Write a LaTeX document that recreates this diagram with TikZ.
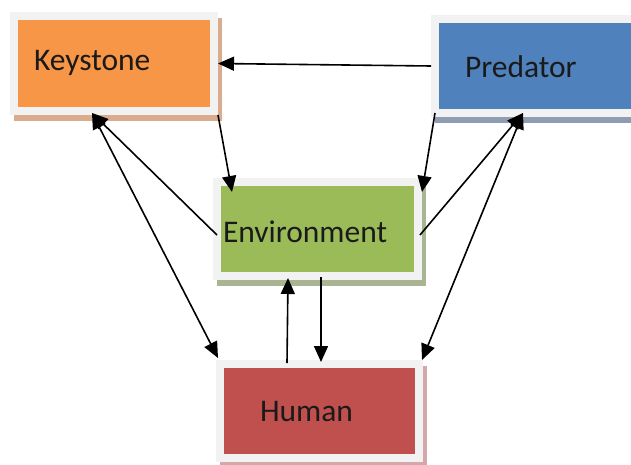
\documentclass[tikz,border=0pt]{standalone}
\usepackage{fontspec}
\setmainfont{Carlito}
\usetikzlibrary{arrows.meta,shadows}
\definecolor{framegray}{HTML}{F2F2F2}
\definecolor{kfill}{HTML}{F79646}
\definecolor{pfill}{HTML}{4F81BD}
\definecolor{efill}{HTML}{9BBB59}
\definecolor{hfill}{HTML}{C0504D}
\definecolor{kshadow}{HTML}{D8AC8C}
\definecolor{pshadow}{HTML}{8E9DB2}
\definecolor{eshadow}{HTML}{A9B592}
\definecolor{hshadow}{HTML}{D4A8A8}
\definecolor{txt}{HTML}{1A1A1A}
\tikzset{
  box/.style n args={2}{rectangle, fill=framegray, inner sep=0pt, outer sep=0pt,
    general shadow={fill=#2, shadow xshift=4pt, shadow yshift=-6pt},
    path picture={\fill[#1] ([shift={(8pt,-8pt)}]path picture bounding box.north west)
      rectangle ([shift={(-8pt,8pt)}]path picture bounding box.south east);}},
  lbl/.style={inner sep=0pt, outer sep=0pt, anchor=base west, text=txt,
    font=\fontsize{31.5}{38}\selectfont},
  tip/.tip={Triangle[length=16pt,width=14pt]},
  conn/.style={draw=black, line width=1.6pt, -tip},
  dconn/.style={draw=black, line width=1.6pt, tip-tip}
}
\begin{document}
\begin{tikzpicture}[x=1pt,y=-1pt]
\useasboundingbox (0,0) rectangle (631,465);
\fill[white] (0,0) rectangle (631,465);
% boxes
\node[box={kfill}{kshadow}, minimum width=208pt, minimum height=103pt] (k) at (114,63.5) {};
\node[box={pfill}{pshadow}, minimum width=214pt, minimum height=102pt] (p) at (538,66) {};
\node[box={efill}{eshadow}, minimum width=209pt, minimum height=102pt] (e) at (317.5,229) {};
\node[box={hfill}{hshadow}, minimum width=207pt, minimum height=102pt] (h) at (319.5,411) {};
% labels
\node[lbl] (kl) at (34,71) {Keystone};
\node[lbl] (pl) at (465,78) {Predator};
\node[lbl] (el) at (223,242) {Environment};
\node[lbl] (hl) at (260,421) {Human};
% connectors
\draw[conn] (p.west) -- (k.east);
\draw[conn] (k.south east) -- ([shift={(19,14)}]e.north west);
\draw[conn] ([shift={(4,6)}]e.west) -- ([shift={(82,-2)}]k.south west);
\draw[dconn] ([shift={(82,-2)}]k.south west) -- ([shift={(2,-2)}]h.north west);
\draw[conn] ([shift={(4,-4)}]p.south west) -- ([shift={(0,14)}]e.north east);
\draw[conn] ([shift={(-2,6)}]e.east) -- ([shift={(92,-4)}]p.south west);
\draw[dconn] ([shift={(92,-4)}]p.south west) -- ([shift={(-1,0)}]h.north east);
\draw[conn] ([shift={(71,3)}]h.north west) -- ([shift={(75,-2)}]e.south west);
\draw[conn] ([shift={(108,-3)}]e.south west) -- ([shift={(105,2)}]h.north west);
\end{tikzpicture}
\end{document}
